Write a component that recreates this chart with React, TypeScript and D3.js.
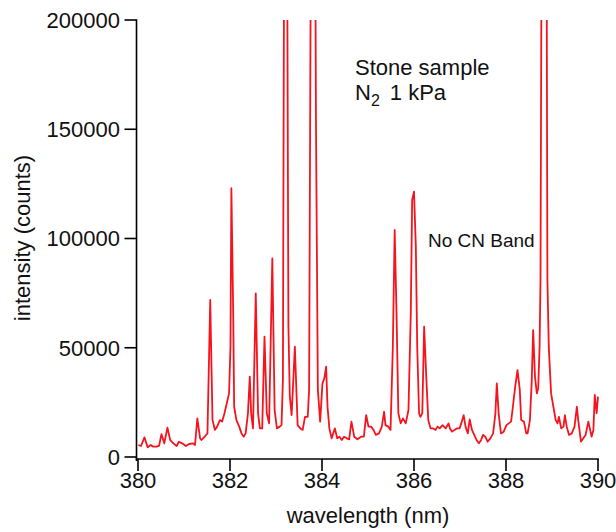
import React from "react";
import * as d3 from "d3";

const wavelength: number[] = [
  380.007, 380.065, 380.14, 380.21, 380.28, 380.33, 380.41, 380.46, 380.51, 380.57,
  380.64, 380.70, 380.77, 380.84, 380.89, 380.96, 381.04, 381.11, 381.20, 381.24,
  381.29, 381.35, 381.38, 381.46, 381.51, 381.57, 381.62, 381.67, 381.72, 381.78,
  381.83, 381.88, 381.93, 381.98, 382.01, 382.03, 382.07, 382.09, 382.14, 382.20,
  382.25, 382.30, 382.34, 382.39, 382.43, 382.46, 382.50, 382.56, 382.61, 382.65,
  382.70, 382.75, 382.80, 382.85, 382.92, 382.97, 383.02, 383.08, 383.12, 383.15,
  383.18, 383.21, 383.24, 383.27, 383.30, 383.34, 383.41, 383.47, 383.53, 383.58,
  383.63, 383.69, 383.72, 383.76, 383.80, 383.84, 383.87, 383.91, 383.96, 384.01,
  384.05, 384.09, 384.12, 384.16, 384.21, 384.28, 384.33, 384.38, 384.43, 384.48,
  384.54, 384.59, 384.64, 384.70, 384.77, 384.85, 384.91, 384.96, 385.01, 385.07,
  385.12, 385.17, 385.24, 385.30, 385.35, 385.38, 385.44, 385.49, 385.54, 385.58,
  385.62, 385.66, 385.71, 385.76, 385.82, 385.88, 385.93, 385.96, 386.00, 386.04,
  386.07, 386.11, 386.14, 386.18, 386.22, 386.27, 386.31, 386.36, 386.42, 386.47,
  386.51, 386.56, 386.62, 386.69, 386.75, 386.78, 386.83, 386.88, 386.93, 386.99,
  387.04, 387.08, 387.12, 387.17, 387.21, 387.26, 387.31, 387.36, 387.41, 387.46,
  387.50, 387.55, 387.60, 387.66, 387.72, 387.77, 387.80, 387.84, 387.89, 387.95,
  388.01, 388.06, 388.11, 388.15, 388.20, 388.25, 388.30, 388.33, 388.39, 388.44,
  388.47, 388.52, 388.56, 388.59, 388.63, 388.67, 388.70, 388.73, 388.75, 388.79,
  388.83, 388.87, 388.90, 388.93, 388.98, 389.03, 389.08, 389.12, 389.15, 389.20,
  389.25, 389.28, 389.32, 389.37, 389.43, 389.49, 389.54, 389.57, 389.63, 389.68,
  389.73, 389.79, 389.83, 389.86, 389.90, 389.93, 389.97, 390.00,
];

const intensity: number[] = [
  5490, 5030, 9000, 4430, 5490, 4730, 4730, 5190, 10500, 6250,
  13400, 7780, 6250, 5030, 7000, 6250, 5030, 5950, 6250, 5490,
  17700, 8550, 7780, 9600, 10800, 71900, 16900, 12400, 13900, 16900,
  16200, 20000, 24600, 29100, 50500, 123000, 65900, 23000, 16900, 13900,
  10800, 9300, 10800, 20000, 36800, 20000, 13100, 74900, 20000, 13100,
  13100, 55100, 20000, 15400, 90900, 21500, 13100, 13900, 14600, 35200,
  260000, 400000, 250000, 60000, 27600, 19200, 50500, 14600, 13100, 12400,
  18400, 18400, 30700, 250000, 400000, 300000, 150000, 30700, 16200, 33700,
  36000, 41300, 23000, 13100, 8550, 13100, 8550, 9300, 7780, 9300,
  8550, 8100, 16200, 9300, 8100, 9300, 9300, 19200, 13900, 13900,
  12400, 10100, 10800, 13900, 20700, 14600, 13900, 12400, 50500, 103900,
  65800, 20000, 15400, 17700, 15400, 21500, 65800, 117600, 121400, 96300,
  50500, 20000, 18400, 20000, 59600, 35200, 16900, 13100, 13100, 12400,
  13900, 13100, 14600, 13100, 15400, 13100, 11600, 12400, 13100, 13100,
  16200, 19200, 13900, 10800, 17200, 12400, 10100, 7780, 6250, 7780,
  10100, 9300, 7000, 8550, 10800, 20000, 33700, 20000, 10800, 11600,
  14600, 15400, 16200, 23000, 32200, 39800, 30700, 16900, 16200, 10800,
  10800, 16900, 35200, 58100, 36800, 29100, 31400, 50500, 81000, 350000,
  400000, 350000, 81000, 50500, 29100, 23000, 16900, 15400, 18400, 13100,
  13900, 19200, 13900, 10100, 10800, 13900, 23000, 16900, 7000, 8550,
  10100, 16200, 12400, 9300, 12400, 28400, 20000, 27600,
];

const xTicks: number[] = [380, 382, 384, 386, 388, 390];
const yTicks: number[] = [0, 50000, 100000, 150000, 200000];

export default function App() {
  const width = 616;
  const height = 532;
  const x = d3.scaleLinear().domain([380, 390]).range([138, 598]);
  const y = d3.scaleLinear().domain([0, 200000]).range([457, 20]);
  const pts: [number, number][] = wavelength.map((w, i) => [w, intensity[i]]);
  const line = d3
    .line<[number, number]>()
    .x((d) => x(d[0]))
    .y((d) => y(d[1]));
  const font = "Liberation Sans, Arial, Helvetica, sans-serif";
  const axisY0 = 459;
  const axisX0 = 136.5;
  return (
    <svg
      width={width}
      height={height}
      style={{ position: "absolute", left: 0, top: 0, background: "#fff" }}
      fontFamily={font}
    >
      <defs>
        <clipPath id="plotclip">
          <rect x={axisX0} y={y(200000)} width={x(390) - axisX0 + 2} height={axisY0 - y(200000)} />
        </clipPath>
      </defs>
      <path
        d={line(pts) || ""}
        fill="none"
        stroke="#f5141e"
        strokeWidth={1.8}
        strokeLinejoin="round"
        clipPath="url(#plotclip)"
      />
      {/* y axis */}
      <line x1={axisX0} x2={axisX0} y1={y(200000) - 0.75} y2={axisY0 + 2} stroke="#000" strokeWidth={1.6} />
      {yTicks.map((t) => (
        <g key={"y" + t}>
          <line x1={axisX0 - 12} x2={axisX0} y1={y(t)} y2={y(t)} stroke="#000" strokeWidth={1.6} />
          <text x={120} y={y(t)} dy="0.36em" textAnchor="end" fontSize={22} fill="#111">
            {t}
          </text>
        </g>
      ))}
      {/* x axis */}
      <line x1={axisX0 - 0.8} x2={x(390) + 0.8} y1={axisY0} y2={axisY0} stroke="#000" strokeWidth={1.6} />
      {xTicks.map((t) => (
        <g key={"x" + t}>
          <line x1={x(t)} x2={x(t)} y1={axisY0} y2={axisY0 + 12} stroke="#000" strokeWidth={1.6} />
          <text x={x(t)} y={488} textAnchor="middle" fontSize={22} fill="#111">
            {t}
          </text>
        </g>
      ))}
      <text x={368} y={523} textAnchor="middle" fontSize={22} fill="#111">
        wavelength (nm)
      </text>
      <text
        transform="translate(30,238) rotate(-90)"
        textAnchor="middle"
        fontSize={22}
        fill="#111"
      >
        intensity (counts)
      </text>
      <text x={355} y={75} fontSize={22} fill="#111">
        Stone sample
      </text>
      <text x={355} y={100} fontSize={22} fill="#111">
        N
        <tspan fontSize={16} dy={6}>2</tspan>
        <tspan dy={-6} dx={10}>1 kPa</tspan>
      </text>
      <text x={428} y={247} fontSize={19} fill="#111">
        No CN Band
      </text>
    </svg>
  );
}
